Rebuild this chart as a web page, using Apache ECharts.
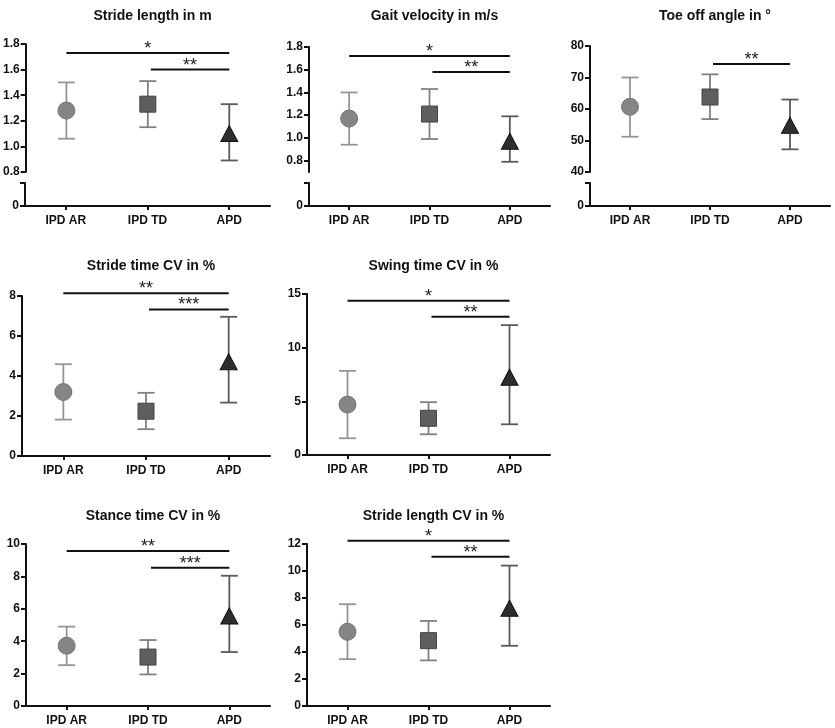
<!DOCTYPE html>
<html>
<head>
<meta charset="utf-8">
<script src="https://cdn.jsdelivr.net/npm/echarts@6/dist/echarts.min.js"></script>
<style>
html,body{margin:0;padding:0;background:#fff;}
#chart{width:835px;height:728px;}
</style>
</head>
<body>
<div id="chart"></div>
<script>
// ---------- data ----------
const categories = ['IPD AR', 'IPD TD', 'APD'];

const strideLengthMean = [1.28, 1.33, 1.10];
const strideLengthLow  = [1.06, 1.15, 0.89];
const strideLengthHigh = [1.50, 1.51, 1.33];
const strideLengthTicks = [0.8, 1.0, 1.2, 1.4, 1.6, 1.8];
const strideLengthSig = [[0, 2, 1.73, '*'], [1, 2, 1.60, '**']];

const gaitVelocityMean = [1.17, 1.21, 0.97];
const gaitVelocityLow  = [0.94, 0.99, 0.79];
const gaitVelocityHigh = [1.40, 1.43, 1.19];
const gaitVelocityTicks = [0.8, 1.0, 1.2, 1.4, 1.6, 1.8];
const gaitVelocitySig = [[0, 2, 1.72, '*'], [1, 2, 1.58, '**']];

const toeOffMean = [60.7, 63.8, 54.8];
const toeOffLow  = [51.2, 56.8, 47.2];
const toeOffHigh = [70.0, 71.0, 63.0];
const toeOffTicks = [40, 50, 60, 70, 80];
const toeOffSig = [[1, 2, 74.3, '**']];

const strideTimeCVMean = [3.20, 2.24, 4.71];
const strideTimeCVLow  = [1.82, 1.34, 2.67];
const strideTimeCVHigh = [4.59, 3.16, 6.96];
const strideTimeCVTicks = [0, 2, 4, 6, 8];
const strideTimeCVSig = [[0, 2, 8.14, '**'], [1, 2, 7.33, '***']];

const swingTimeCVMean = [4.70, 3.42, 7.25];
const swingTimeCVLow  = [1.56, 1.93, 2.86];
const swingTimeCVHigh = [7.84, 4.92, 12.1];
const swingTimeCVTicks = [0, 5, 10, 15];
const swingTimeCVSig = [[0, 2, 14.37, '*'], [1, 2, 12.88, '**']];

const stanceTimeCVMean = [3.72, 3.02, 5.56];
const stanceTimeCVLow  = [2.52, 1.95, 3.33];
const stanceTimeCVHigh = [4.90, 4.07, 8.04];
const stanceTimeCVTicks = [0, 2, 4, 6, 8, 10];
const stanceTimeCVSig = [[0, 2, 9.57, '**'], [1, 2, 8.54, '***']];

const strideLengthCVMean = [5.50, 4.84, 7.24];
const strideLengthCVLow  = [3.47, 3.38, 4.46];
const strideLengthCVHigh = [7.54, 6.30, 10.4];
const strideLengthCVTicks = [0, 2, 4, 6, 8, 10, 12];
const strideLengthCVSig = [[0, 2, 12.25, '*'], [1, 2, 11.06, '**']];

const panelTitles = ['Stride length in m', 'Gait velocity in m/s', 'Toe off angle in °',
  'Stride time CV in %', 'Swing time CV in %', 'Stance time CV in %', 'Stride length CV in %'];

// ---------- styling / layout ----------
const FONT = '"Liberation Sans", Arial, Helvetica, sans-serif';
const markerSymbols = ['circle', 'rect', 'triangle'];
const markerSizes = [17, 16, [17, 16]];
const markerFill = ['#858585', '#5e5e5e', '#2e2e2e'];
const markerBorder = ['#747474', '#444444', '#111111'];
const barColor = ['#959595', '#808080', '#5a5a5a'];

const panels = [
  {title: panelTitles[0], mean: strideLengthMean, low: strideLengthLow, high: strideLengthHigh, ticks: strideLengthTicks, sig: strideLengthSig, min: 0.8, dec: 1,
   up: {left: 25, top: 44, width: 245, height: 128}, lo: {left: 25, top: 183, width: 245, height: 23}, titleTop: 4},
  {title: panelTitles[1], mean: gaitVelocityMean, low: gaitVelocityLow, high: gaitVelocityHigh, ticks: gaitVelocityTicks, sig: gaitVelocitySig, min: 0.7, dec: 1,
   up: {left: 309, top: 47, width: 241, height: 125}, lo: {left: 309, top: 183, width: 241, height: 23}, titleTop: 4},
  {title: panelTitles[2], mean: toeOffMean, low: toeOffLow, high: toeOffHigh, ticks: toeOffTicks, sig: toeOffSig, min: 40, dec: 0,
   up: {left: 590, top: 46, width: 240, height: 126}, lo: {left: 590, top: 183, width: 240, height: 23}, titleTop: 4},
  {title: panelTitles[3], mean: strideTimeCVMean, low: strideTimeCVLow, high: strideTimeCVHigh, ticks: strideTimeCVTicks, sig: strideTimeCVSig, min: 0, dec: 0,
   up: {left: 22, top: 296, width: 248, height: 160}, titleTop: 254},
  {title: panelTitles[4], mean: swingTimeCVMean, low: swingTimeCVLow, high: swingTimeCVHigh, ticks: swingTimeCVTicks, sig: swingTimeCVSig, min: 0, dec: 0,
   up: {left: 307, top: 294, width: 243, height: 161}, titleTop: 254},
  {title: panelTitles[5], mean: stanceTimeCVMean, low: stanceTimeCVLow, high: stanceTimeCVHigh, ticks: stanceTimeCVTicks, sig: stanceTimeCVSig, min: 0, dec: 0,
   up: {left: 26, top: 544, width: 244, height: 162}, titleTop: 504},
  {title: panelTitles[6], mean: strideLengthCVMean, low: strideLengthCVLow, high: strideLengthCVHigh, ticks: strideLengthCVTicks, sig: strideLengthCVSig, min: 0, dec: 0,
   up: {left: 307, top: 544, width: 243, height: 162}, titleTop: 504}
];

const axisLineStyle = {color: '#111', width: 2};
const labelStyle = {color: '#111', fontFamily: FONT, fontWeight: 'bold', fontSize: 12};

const grids = [], xAxes = [], yAxes = [], series = [], titles = [];

function xAxisDef(gi, visible) {
  return {
    gridIndex: gi, type: 'category', data: categories, boundaryGap: true, show: visible,
    axisLine: {show: true, lineStyle: axisLineStyle, onZero: false},
    axisTick: {show: true, alignWithLabel: true, length: 4, lineStyle: axisLineStyle},
    axisLabel: Object.assign({margin: 9, interval: 0}, labelStyle),
    splitLine: {show: false}
  };
}

panels.forEach((p) => {
  const broken = !!p.lo;
  const gi = grids.length;
  grids.push(Object.assign({containLabel: false}, p.up));
  xAxes.push(xAxisDef(gi, !broken));
  yAxes.push({
    gridIndex: gi, type: 'value', min: p.min, max: p.ticks[p.ticks.length - 1],
    axisLine: {show: true, lineStyle: axisLineStyle},
    axisTick: {show: true, length: 5, lineStyle: axisLineStyle, customValues: p.ticks},
    axisLabel: Object.assign({margin: 6, customValues: p.ticks, formatter: v => Number(v).toFixed(p.dec)}, labelStyle),
    splitLine: {show: false}
  });
  if (broken) {
    const gl = grids.length;
    grids.push(Object.assign({containLabel: false}, p.lo));
    xAxes.push(xAxisDef(gl, true));
    yAxes.push({
      gridIndex: gl, type: 'value', min: 0, max: 1,
      axisLine: {show: true, lineStyle: axisLineStyle},
      axisTick: {show: true, length: 5, lineStyle: axisLineStyle, customValues: [0, 1]},
      axisLabel: Object.assign({margin: 6, customValues: [0], formatter: v => String(v)}, labelStyle),
      splitLine: {show: false}
    });
  }
  const cx = p.up.left + p.up.width / 2;
  titles.push({
    text: p.title, left: cx, top: p.titleTop, textAlign: 'center',
    textStyle: {fontFamily: FONT, fontWeight: 'bold', fontSize: 14, color: '#111'}
  });

  // error bars
  series.push({
    type: 'custom', xAxisIndex: gi, yAxisIndex: gi, clip: false, z: 2,
    encode: {x: 0, y: [1, 2]},
    data: categories.map((c, i) => [i, p.low[i], p.high[i]]),
    renderItem: function (params, api) {
      const i = api.value(0);
      const a = api.coord([i, api.value(1)]);
      const b = api.coord([i, api.value(2)]);
      const hw = 8.5;
      const st = {stroke: barColor[params.dataIndex], lineWidth: 1.8};
      return {type: 'group', children: [
        {type: 'line', shape: {x1: a[0], y1: a[1], x2: b[0], y2: b[1]}, style: st},
        {type: 'line', shape: {x1: a[0] - hw, y1: a[1], x2: a[0] + hw, y2: a[1]}, style: st},
        {type: 'line', shape: {x1: b[0] - hw, y1: b[1], x2: b[0] + hw, y2: b[1]}, style: st}
      ]};
    }
  });
  // markers
  series.push({
    type: 'scatter', xAxisIndex: gi, yAxisIndex: gi, z: 3,
    data: categories.map((c, i) => ({
      value: [i, p.mean[i]], symbol: markerSymbols[i], symbolSize: markerSizes[i],
      itemStyle: {color: markerFill[i], borderColor: markerBorder[i], borderWidth: 1, opacity: 1}
    })),
    emphasis: {disabled: true}, silent: true
  });
  // significance lines
  series.push({
    type: 'custom', xAxisIndex: gi, yAxisIndex: gi, clip: false, z: 4,
    encode: {x: [0, 1], y: 2},
    data: p.sig.map(s => [s[0], s[1], s[2]]),
    renderItem: function (params, api) {
      const s = p.sig[params.dataIndex];
      const a = api.coord([api.value(0), api.value(2)]);
      const b = api.coord([api.value(1), api.value(2)]);
      const x1 = a[0] + (api.value(0) > 0 ? 3 : 0);
      return {type: 'group', children: [
        {type: 'line', shape: {x1: x1, y1: a[1], x2: b[0], y2: b[1]}, style: {stroke: '#111', lineWidth: 2}},
        {type: 'text', style: {text: s[3], x: (x1 + b[0]) / 2, y: a[1] + 5, align: 'center', verticalAlign: 'bottom',
          font: '18px ' + FONT, fill: '#222'}}
      ]};
    }
  });
});

const chart = echarts.init(document.getElementById('chart'), null, {renderer: 'canvas'});
chart.setOption({
  backgroundColor: '#fff',
  animation: false,
  title: titles,
  grid: grids,
  xAxis: xAxes,
  yAxis: yAxes,
  series: series
});
</script>
</body>
</html>
